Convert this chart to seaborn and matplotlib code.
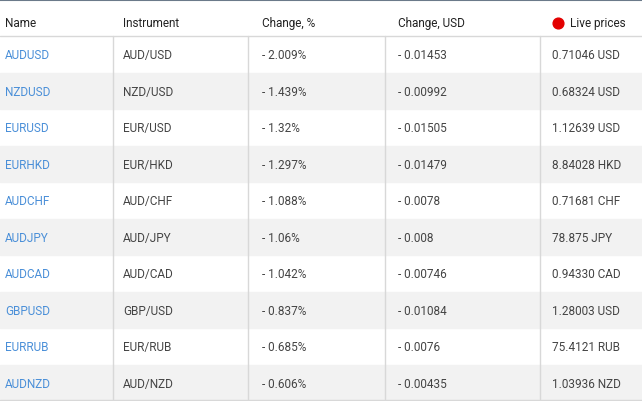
import matplotlib.pyplot as plt
import seaborn as sns

names = ["AUDUSD", "NZDUSD", "EURUSD", "EURHKD", "AUDCHF", "AUDJPY", "AUDCAD", "GBPUSD", "EURRUB", "AUDNZD"]
instruments = ["AUD/USD", "NZD/USD", "EUR/USD", "EUR/HKD", "AUD/CHF", "AUD/JPY", "AUD/CAD", "GBP/USD", "EUR/RUB", "AUD/NZD"]
change_pct = ["- 2.009%", "- 1.439%", "- 1.32%", "- 1.297%", "- 1.088%", "- 1.06%", "- 1.042%", "- 0.837%", "- 0.685%", "- 0.606%"]
change_usd = ["- 0.01453", "- 0.00992", "- 0.01505", "- 0.01479", "- 0.0078", "- 0.008", "- 0.00746", "- 0.01084", "- 0.0076", "- 0.00435"]
live = ["0.71046 USD", "0.68324 USD", "1.12639 USD", "8.84028 HKD", "0.71681 CHF", "78.875 JPY", "0.94330 CAD", "1.28003 USD", "75.4121 RUB", "1.03936 NZD"]
headers = ["Name", "Instrument", "Change, %", "Change, USD", "Live prices"]

sns.set_style("white")
plt.rcParams['font.family'] = ['Roboto', 'DejaVu Sans']

fig = plt.figure(figsize=(6.42, 4.02), dpi=100)
ax = fig.add_axes([0, 0, 1, 1])
ax.set_xlim(0, 642)
ax.set_ylim(402, 0)
ax.axis('off')

col_x = [5, 123, 262, 398, 552]
col_lines = [113, 248, 385, 540]
head_h = 37
row_h = 36.5
head_y = 23.5

ax.axhline(0.5, color="#6b7a8a", lw=1.5)
for j, h in enumerate(headers):
    x = col_x[j]
    if h == "Live prices":
        ax.scatter([558], [head_y], s=60, color="#e30000", zorder=3)
        x = 570
    ax.text(x, head_y, h, va="center", ha="left", fontsize=8.5, color="#222222")
ax.axhline(head_h, color="#d8d8d8", lw=1)

for i in range(len(names)):
    y0 = head_h + i * row_h
    if i % 2 == 1:
        ax.axhspan(y0, y0 + row_h, color="#f2f2f2", zorder=0)
    yc = y0 + row_h / 2 + 0.5
    vals = [names[i], instruments[i], change_pct[i], change_usd[i], live[i]]
    for j, v in enumerate(vals):
        ax.text(col_x[j], yc, v, va="center", ha="left", fontsize=8.5,
                color="#4a8fd8" if j == 0 else "#444444")

for x in col_lines:
    ax.plot([x, x], [head_h, 402], color="#d8d8d8", lw=1)
ax.axhline(401, color="#d8d8d8", lw=1)

fig.savefig("out.png", dpi=100)
